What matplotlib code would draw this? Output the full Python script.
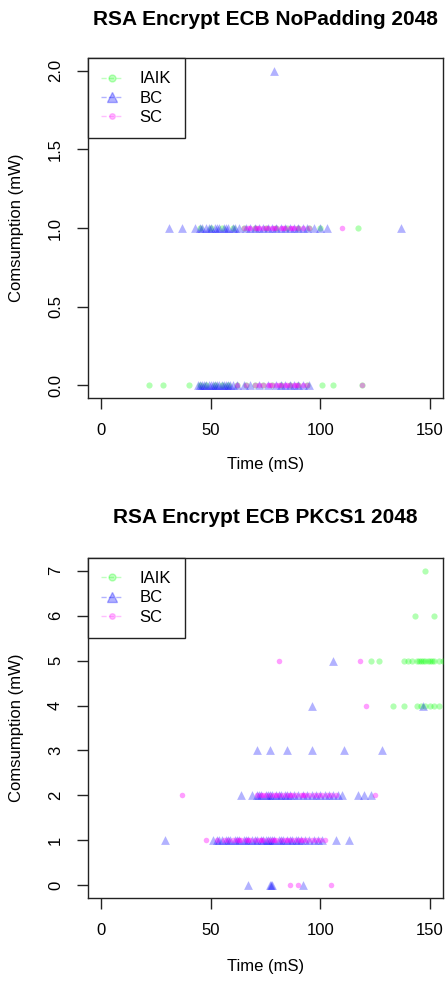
import matplotlib
matplotlib.use("Agg")
import matplotlib.pyplot as plt
from matplotlib.lines import Line2D

plt.rcParams['font.family'] = ['Liberation Sans', 'DejaVu Sans']

series_names = ["IAIK", "BC", "SC"]

# ---- Panel 1: RSA Encrypt ECB NoPadding 2048 ----  (consumption level -> times in mS)
np_iaik = {0: [22, 28, 40, 45, 48, 52, 55, 58, 62, 66, 70, 74, 78, 82, 86, 90, 94, 101, 106, 119],
           1: [45, 50, 55, 60, 65, 70, 75, 80, 85, 90, 95, 100, 117]}
np_bc = {0: [44, 45, 46, 47, 48, 49, 50, 51, 52, 53, 54, 55, 56, 57, 58, 59, 60, 62, 65, 68,
             72, 76, 80, 82, 84, 86, 88, 90, 92, 95],
         1: [31, 37, 43, 45, 46, 48, 49, 50, 52, 53, 54, 56, 57, 58, 60, 61, 63, 66, 68, 70, 72, 74,
             76, 78, 80, 82, 84, 86, 88, 90, 92, 94, 97, 100, 103, 137],
         2: [79]}
np_sc = {0: [62, 66, 70, 72, 74, 76, 77, 78, 80, 81, 82, 84, 85, 86, 88, 89, 90, 92, 94, 119],
         1: [65, 67, 68, 70, 71, 72, 74, 75, 76, 78, 79, 80, 82, 83, 84, 86, 87, 88, 90, 92, 95, 110]}

# ---- Panel 2: RSA Encrypt ECB PKCS1 2048 ----
pk_iaik = {7: [148],
           6: [143, 152],
           5: [123, 127, 138, 140, 142, 144, 145, 146, 147, 148, 149, 150, 151, 152, 154, 156],
           4: [133, 138, 144, 146, 148, 150, 152, 154]}
pk_bc = {0: [67, 77, 77.5, 78, 92],
         1: [29, 51, 53, 54, 55, 57, 58, 59, 61, 62, 63, 65, 66, 67, 69, 70, 71, 73, 74, 75, 76, 77,
             78, 79, 81, 82, 83, 85, 86, 87, 89, 90, 91, 93, 95, 97, 99, 101, 107, 113],
         2: [64, 69, 71, 72, 73, 75, 76, 77, 78, 80, 81, 82, 84, 85, 86, 88, 90, 92, 94, 96, 98, 100,
             102, 104, 106, 108, 110, 117, 120, 123],
         3: [71, 77, 85, 96, 111, 128],
         4: [96, 147],
         5: [106]}
pk_sc = {0: [86, 90, 105],
         1: [48, 53, 56, 58, 60, 62, 63, 64, 66, 67, 68, 70, 72, 73, 74, 76, 78, 79, 80, 82, 84, 85,
             86, 88, 90, 91, 92, 94, 96, 98, 100, 102],
         2: [37, 71, 73, 74, 75, 77, 79, 80, 81, 83, 85, 86, 87, 89, 91, 92, 93, 95, 97, 99, 101,
             103, 105, 107, 125],
         4: [121],
         5: [81, 118]}

panels = [
    dict(title="RSA Encrypt ECB NoPadding 2048",
         data=[np_iaik, np_bc, np_sc],
         yticks=[0.0, 0.5, 1.0, 1.5, 2.0], yticklabels=["0.0", "0.5", "1.0", "1.5", "2.0"],
         ylim=(-0.08, 2.08)),
    dict(title="RSA Encrypt ECB PKCS1 2048",
         data=[pk_iaik, pk_bc, pk_sc],
         yticks=[0, 1, 2, 3, 4, 5, 6, 7], yticklabels=["0", "1", "2", "3", "4", "5", "6", "7"],
         ylim=(-0.28, 7.28)),
]
xticks = [0, 50, 100, 150]

colors = [(0, 1, 0, 0.3), (0, 0, 1, 0.3), (1, 0, 1, 0.38)]
leg_colors = [(0, 1, 0, 0.25), (0, 0, 1, 0.3), (1, 0, 1, 0.25)]
markers = ['o', '^', 'o']
sizes = [20, 40, 16]

W, H = 446, 984
fig = plt.figure(figsize=(W/100, H/100), dpi=100)

boxes = [(88, 58, 443, 398), (88, 558, 443, 898)]
title_base = [25, 523]
xlabel_y = [465, 966]
fs = 12

for p, (l, t, r, b), tb, xly in zip(panels, boxes, title_base, xlabel_y):
    ax = fig.add_axes([l/W, 1-b/H, (r-l)/W, (b-t)/H])
    for rows, col, mk, s in zip(p["data"], colors, markers, sizes):
        tx = [v for lvl in rows for v in rows[lvl]]
        cy = [lvl for lvl in rows for _ in rows[lvl]]
        ax.scatter(tx, cy, s=s, marker=mk, color=col, linewidths=0, zorder=3)
    ax.set_xlim(-6, 156)
    ax.set_ylim(*p["ylim"])
    ax.set_xticks(xticks)
    ax.set_xticklabels([str(v) for v in xticks])
    ax.set_yticks(p["yticks"])
    ax.set_yticklabels(p["yticklabels"], rotation=90, va='center')
    ax.tick_params(direction='out', length=8, width=1, labelsize=fs, pad=10, color='#222222')
    for sp in ax.spines.values():
        sp.set_color('#222222')
        sp.set_linewidth(1)
    fig.text((l+r)/2/W, 1-tb/H, p["title"], ha='center', va='baseline',
             fontsize=15, fontweight='bold')
    fig.text((l+r)/2/W, 1-xly/H, "Time (mS)", ha='center', va='center', fontsize=fs)
    fig.text(17/W, 1-(t+b)/2/H, "Comsumption (mW)", ha='center', va='center',
             rotation=90, fontsize=fs)
    handles = [Line2D([], [], color=c, marker=m, linestyle='--', markersize=ms, linewidth=1)
               for c, m, ms in zip(leg_colors, markers, [5, 7, 4])]
    leg = ax.legend(handles, series_names, loc='upper left', borderaxespad=0,
                    fancybox=False, edgecolor='#222222', framealpha=1, fontsize=fs,
                    handlelength=1.3, handletextpad=1.0, borderpad=0.8, labelspacing=0.25)
    leg.get_frame().set_linewidth(1)

fig.savefig("out.png", dpi=100)
